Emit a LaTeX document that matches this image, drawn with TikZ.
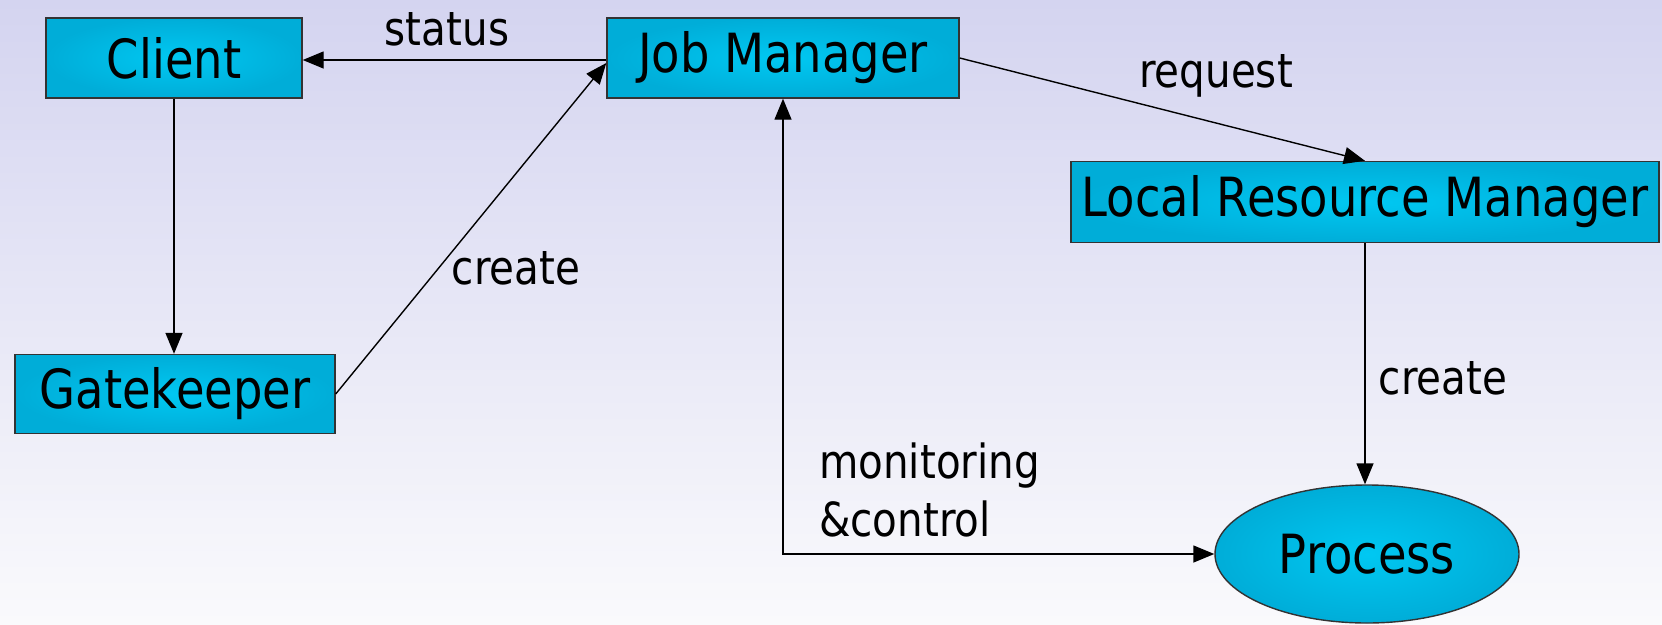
\documentclass[tikz,border=0pt]{standalone}
\usepackage{fontspec}
\setmainfont{DejaVu Sans}[FakeStretch=0.86]
\usetikzlibrary{shapes.geometric,arrows.meta,calc}
\definecolor{bgtop}{HTML}{D4D4F0}
\definecolor{bgbot}{HTML}{FAFAFC}
\definecolor{boxin}{HTML}{00C8F2}
\definecolor{boxout}{HTML}{00ADD8}
\begin{document}
\begin{tikzpicture}[x=1pt,y=-1pt,
  box/.style={draw=black!80, line width=1.4pt, inner sep=0pt, inner color=boxin, outer color=boxout,
    font=\fontsize{54}{60}\selectfont, minimum height=80pt},
  lbl/.style={font=\fontsize{47}{58}\selectfont, inner sep=0pt},
  arr/.style={line width=1.4pt, -{Triangle[length=21pt,width=17pt]}},
  arrb/.style={line width=1.4pt, {Triangle[length=21pt,width=17pt]}-{Triangle[length=21pt,width=17pt]}}]
\shade[top color=bgtop, bottom color=bgbot] (0,0) rectangle (1662,624);
\useasboundingbox (0,0) rectangle (1662,624);
\node[box, minimum width=256pt] (client) at (174,58) {Client};
\node[box, minimum width=352pt] (jm) at (783,58) {Job Manager};
\node[box, minimum width=588pt, minimum height=81pt] (lrm) at (1365,202) {Local Resource Manager};
\node[box, minimum width=320pt, minimum height=79pt] (gk) at (175,394) {Gatekeeper};
\node[box, ellipse, minimum width=304pt, minimum height=138pt] (proc) at (1367,554) {Process};
\draw[arr] ([yshift=-2pt]jm.west) -- ([yshift=-2pt]client.east);
\draw[arr] (client.south) -- (client.south |- gk.north);
\draw[arr] (gk.east) -- ([yshift=-5pt]jm.west);
\draw[arr] (jm.east) -- (lrm.north);
\draw[arr] (lrm.south) -- (lrm.south |- proc.north);
\draw[arrb] (jm.south) |- (proc.west);
\node[lbl] (lstatus) at (447,29) {status};
\node[lbl] (lcreate1) at (516,268) {create};
\node[lbl] (lrequest) at (1216,76) {request};
\node[lbl] (lcreate2) at (1443,378) {create};
\node[lbl, anchor=west, align=left] (lmon) at (819,490) {monitoring\\\&control};
\end{tikzpicture}
\end{document}
